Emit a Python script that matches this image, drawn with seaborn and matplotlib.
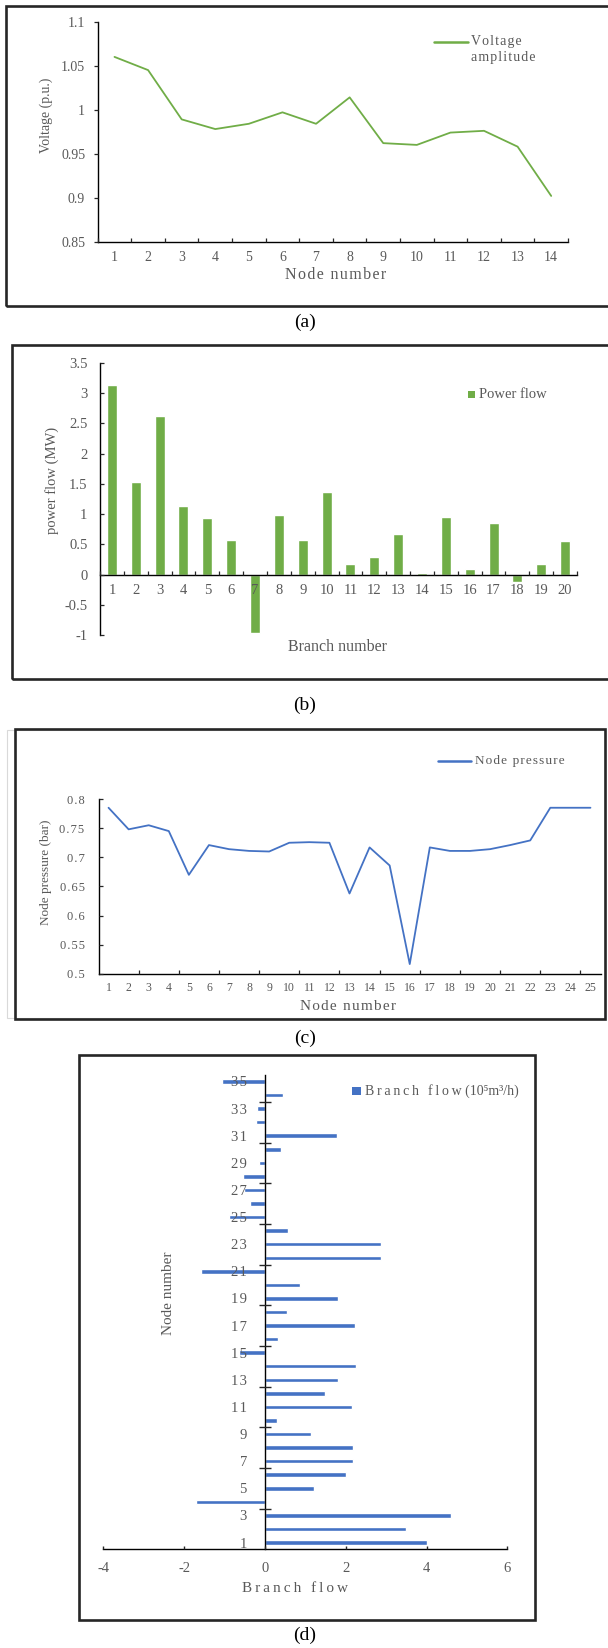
import numpy as np
import matplotlib
matplotlib.use("Agg")
import matplotlib.pyplot as plt
import seaborn as sns
from matplotlib.patches import Rectangle
from matplotlib.lines import Line2D

# data
voltage_nodes = list(range(1, 15))
voltage = [1.060, 1.045, 0.989, 0.978, 0.984, 0.997, 0.984, 1.014,
           0.962, 0.960, 0.974, 0.976, 0.958, 0.902]

power_branches = list(range(1, 21))
power_flow = [3.13, 1.53, 2.62, 1.13, 0.93, 0.58, -0.97, 0.98, 0.57, 1.37,
              0.18, 0.30, 0.68, 0.03, 0.96, 0.09, 0.85, -0.12, 0.17, 0.55]

pressure_nodes = list(range(1, 26))
pressure = [0.785, 0.748, 0.755, 0.745, 0.670, 0.721, 0.714, 0.711, 0.710,
            0.725, 0.726, 0.725, 0.638, 0.717, 0.686, 0.517, 0.717, 0.711,
            0.711, 0.714, 0.721, 0.729, 0.785, 0.785, 0.785]

gas_branches = list(range(1, 36))
gas_flow = [4.00, 3.50, 4.60, -1.71, 1.22, 2.00, 2.18, 2.18, 1.14, 0.30,
            2.15, 1.48, 1.81, 2.26, -0.65, 0.33, 2.24, 0.54, 1.81, 0.86,
            -1.58, 2.88, 2.88, 0.57, -0.88, -0.36, -0.52, -0.54, -0.14, 0.41,
            1.78, -0.23, -0.19, 0.45, -1.05]

GREEN = "#70AD47"
BLUE = "#4472C4"
GRAY = "#595959"
W, H = 608, 1648

sns.set_theme(style="ticks")
plt.rcParams["font.family"] = ["Liberation Serif", "DejaVu Serif"]

fig = plt.figure(figsize=(W / 100, H / 100), dpi=100)


def box(x0, y0, x1, y1):
    return [x0 / W, 1 - y1 / H, (x1 - x0) / W, (y1 - y0) / H]


def ftext(x, y, s, **kw):
    kw.setdefault("ha", "center")
    kw.setdefault("va", "center")
    kw.setdefault("color", GRAY)
    fig.text(x / W, 1 - y / H, s, **kw)


def frame(x0, y0, x1, y1, color="#262626", lw=1.9):
    fig.patches.append(Rectangle((x0 / W, 1 - y1 / H), (x1 - x0) / W, (y1 - y0) / H,
                                 fill=False, ec=color, lw=lw, transform=fig.transFigure))


def leg_line(x0, x1, y, color):
    fig.lines.append(Line2D([x0 / W, x1 / W], [1 - y / H, 1 - y / H], color=color,
                            lw=1.8, transform=fig.transFigure))


def leg_square(x0, y0, x1, y1, color):
    fig.patches.append(Rectangle((x0 / W, 1 - y1 / H), (x1 - x0) / W, (y1 - y0) / H,
                                 fc=color, ec="none", transform=fig.transFigure))


def sp(s, ch="\u200a"):
    return ch.join(s)


def style_axes(ax):
    for s in ["top", "right"]:
        ax.spines[s].set_visible(False)
    for s in ["left", "bottom"]:
        ax.spines[s].set_color("black")
        ax.spines[s].set_linewidth(1.0)
    ax.set_axisbelow(False)
    ax.set_xlabel("")
    ax.set_ylabel("")


# frames
frame(6, 6, 612, 306)
frame(12, 345, 612, 679)
frame(7, 730, 605, 1018, color="#d9d9d9", lw=0.8)
frame(15, 729, 605, 1019)
frame(79, 1055, 535, 1620)

# ---- (a) voltage ----
ax1 = fig.add_axes(box(97.7, 21.7, 568, 241.7))
sns.lineplot(x=voltage_nodes, y=voltage, color=GREEN, lw=1.3, ax=ax1)
ax1.set_xlim(0.5, 14.5)
ax1.set_ylim(0.85, 1.1)
ax1.set_yticks([0.85, 0.9, 0.95, 1.0, 1.05, 1.1])
ax1.set_yticklabels(["0.85", "0.9", "0.95", "1", "1.05", "1.1"])
ax1.set_xticks(voltage_nodes)
ax1.set_xticks(np.arange(0.5, 15, 1), minor=True)
ax1.tick_params(axis="x", which="major", length=0, pad=7, labelsize=10, labelcolor=GRAY)
ax1.tick_params(axis="x", which="minor", direction="in", length=3, width=0.9)
ax1.tick_params(axis="y", direction="out", length=3, width=0.9, pad=6, labelsize=10, labelcolor=GRAY)
style_axes(ax1)
ftext(46, 115, "Voltage (p.u.)", rotation=90, fontsize=10)
ftext(336, 275, sp("Node number"), fontsize=11.5)
leg_line(434, 468, 42, GREEN)
ftext(471, 42, sp("Voltage"), ha="left", fontsize=10)
ftext(471, 57, sp("amplitude"), ha="left", fontsize=10)
ftext(305, 322, "(a)", fontsize=14, color="black")

# ---- (b) power flow ----
ax2 = fig.add_axes(box(100, 362.7, 577, 635.3))
sns.barplot(x=power_branches, y=power_flow, native_scale=True, color=GREEN,
            saturation=1, width=0.42, ax=ax2)
ax2.set_xlim(0.5, 20.5)
ax2.set_ylim(-1, 3.5)
yt = np.arange(-1, 3.51, 0.5)
ax2.set_yticks(yt)
ax2.set_yticklabels([f"{v:g}" for v in yt])
ax2.set_xticks(power_branches)
ax2.set_xticklabels([str(b) for b in power_branches])
ax2.set_xticks(np.arange(0.5, 21, 1), minor=True)
ax2.spines["bottom"].set_position(("data", 0))
ax2.tick_params(axis="x", which="major", length=0, pad=7, labelsize=10.5, labelcolor=GRAY)
ax2.tick_params(axis="x", which="minor", direction="in", length=3, width=0.9)
ax2.tick_params(axis="y", direction="in", length=3, width=0.9, pad=9, labelsize=10.5, labelcolor=GRAY)
style_axes(ax2)
ftext(51.6, 480, "power flow (MW)", rotation=90, fontsize=10.5)
ftext(337, 647, "Branch number", fontsize=11.5)
leg_square(467.5, 391, 474.5, 398, GREEN)
ftext(479, 394.7, "Power flow", ha="left", fontsize=10.5)
ftext(305, 705, "(b)", fontsize=14, color="black")

# ---- (c) node pressure ----
ax3 = fig.add_axes(box(98.5, 799, 600.5, 974))
sns.lineplot(x=pressure_nodes, y=pressure, color=BLUE, lw=1.3, ax=ax3)
ax3.set_xlim(0.5, 25.5)
ax3.set_ylim(0.5, 0.8)
pt = [0.5, 0.55, 0.6, 0.65, 0.7, 0.75, 0.8]
ax3.set_yticks(pt)
ax3.set_yticklabels([sp(f"{v:g}") for v in pt])
ax3.set_xticks(pressure_nodes)
ax3.set_xticks(np.arange(2.5, 25, 2), minor=True)
ax3.tick_params(axis="x", which="major", length=0, pad=6, labelsize=8.5, labelcolor=GRAY)
ax3.tick_params(axis="x", which="minor", direction="in", length=3, width=0.9)
ax3.tick_params(axis="y", direction="in", length=3, width=0.9, pad=10, labelsize=9, labelcolor=GRAY)
style_axes(ax3)
ftext(45.8, 872, "Node pressure (bar)", rotation=90, fontsize=9.5)
ftext(348, 1007, sp("Node number"), fontsize=11)
leg_line(438, 471, 761, BLUE)
ftext(475, 761, sp("Node pressure"), ha="left", fontsize=9.5)
ftext(305, 1038, "(c)", fontsize=14, color="black")

# ---- (d) gas branch flow ----
ax4 = fig.add_axes(box(103.3, 1074.7, 507.3, 1549.3))
sns.barplot(x=gas_flow, y=gas_branches, orient="y", native_scale=True, color=BLUE,
            saturation=1, width=0.33, ax=ax4)
ax4.set_xlim(-4, 6)
ax4.set_ylim(0.5, 35.5)
ax4.set_xticks([-4, -2, 0, 2, 4, 6])
ax4.set_xticklabels(["-4", "-2", "0", "2", "4", "6"])
odd = list(range(1, 36, 2))
ax4.set_yticks(odd)
ax4.set_yticklabels([sp(str(n)) for n in odd])
ax4.set_yticks(np.arange(3.5, 34, 3), minor=True)
ax4.spines["left"].set_position(("data", 0))
ax4.tick_params(axis="y", which="major", length=0, pad=13, labelsize=10.5, labelcolor=GRAY)
ax4.tick_params(axis="y", which="minor", direction="inout", length=8, width=1.0)
ax4.tick_params(axis="x", direction="in", length=2.5, width=1.0, pad=9, labelsize=10.5, labelcolor=GRAY)
style_axes(ax4)
ftext(168, 1293, "Node number", rotation=90, fontsize=11)
ftext(295, 1589, sp("Branch flow", "\u2009"), fontsize=11)
leg_square(352, 1087, 361, 1095, BLUE)
ftext(365, 1091, sp("Branch flow", "\u2009") + " (10\u2075m\u00b3/h)", ha="left", fontsize=10)
ftext(305, 1635, "(d)", fontsize=14, color="black")

fig.savefig("out.png", dpi=100)
